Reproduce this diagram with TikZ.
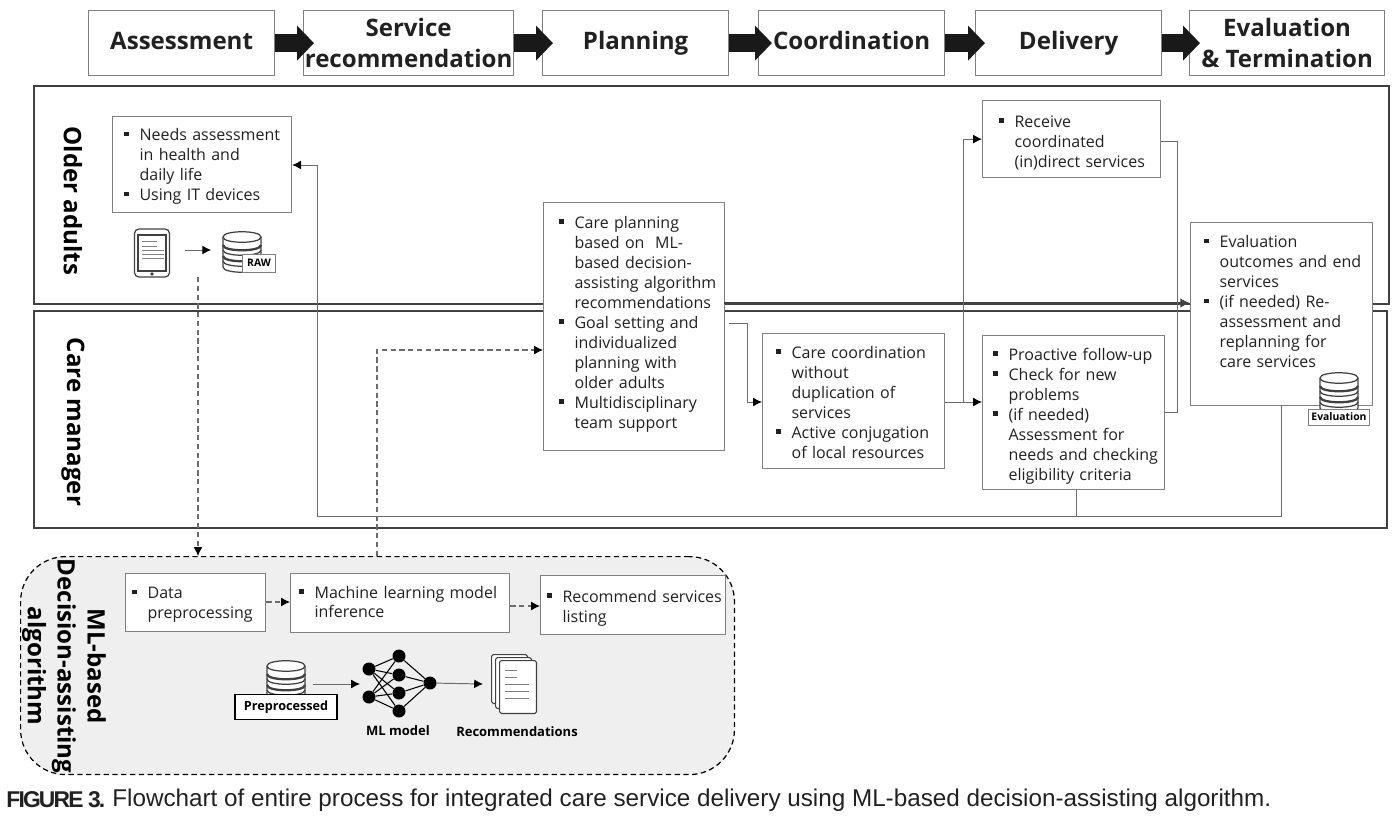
\documentclass[tikz,border=0pt]{standalone}
\usepackage{fontspec}
\setmainfont{Open Sans}
\newfontfamily\capfont{Liberation Sans}
\newfontfamily\capbold[LetterSpace=-8.0]{Liberation Sans Bold}
\usetikzlibrary{arrows.meta}
\definecolor{myline}{rgb}{0.500,0.500,0.500}
\definecolor{mylane}{rgb}{0.250,0.250,0.250}
\definecolor{myflow}{rgb}{0.420,0.420,0.420}
\definecolor{myink}{rgb}{0.130,0.130,0.130}
\definecolor{myblock}{rgb}{0.100,0.100,0.100}
\definecolor{myregion}{rgb}{0.937,0.937,0.937}
\newcommand{\bul}{\rule[0.26em]{2.8pt}{2.8pt}}
\newcommand{\bodyfont}{\fontsize{9.1}{11.38}\selectfont}
\newenvironment{bullets}{\begin{tabular}{@{}l@{\hspace{6.3pt}}l@{}}}{\end{tabular}}
\tikzstyle{none}=[inner sep=0pt]
\tikzstyle{lane}=[draw=mylane,line width=1.1pt,anchor=north west,inner sep=0pt]
\tikzstyle{header}=[draw=myline,line width=.7pt,fill=white,anchor=north west,inner sep=0pt,align=center,minimum height=1.3cm,text=myink,font=\fontsize{13.7}{17.3}\selectfont\bfseries]
\tikzstyle{lanetitle}=[rotate=-90,inner sep=0pt,align=center,text=black,font=\fontsize{13.7}{17}\selectfont\bfseries]
\tikzstyle{iconlabel}=[inner sep=0pt,text=black,font=\fontsize{7.4}{9}\selectfont\bfseries]
\tikzstyle{tagbox}=[draw=myline,line width=.5pt,fill=white,inner sep=0pt,text=black,font=\fontsize{5.9}{8}\selectfont\bfseries]
\tikzstyle{neuron}=[circle,fill=black,inner sep=0pt,minimum size=.26cm]
\tikzstyle{page}=[draw=mylane,line width=.6pt,fill=white,rounded corners=1pt,anchor=north west,inner sep=0pt]
\tikzstyle{flow}=[draw=myflow,line width=.55pt,-{Latex[length=5pt,width=5pt,black]}]
\tikzstyle{plain}=[draw=myflow,line width=.55pt]
\tikzstyle{dashflow}=[draw=myflow,line width=.6pt,dashed,dash pattern=on 3pt off 2pt,-{Latex[length=5pt,width=5pt,black]}]
\tikzstyle{blockflow}=[draw=myblock,line width=.36cm,-{Triangle[length=.34cm,width=.68cm]}]
\tikzset{
	txtbox/.style n args={3}{draw=myline,line width=.7pt,fill=white,anchor=north west,inner ysep=0pt,align=left,text=myink,font=\bodyfont,minimum height=#2*0.02cm,inner xsep=#3*0.02cm,text width={(#1-2*#3)*0.02cm}},
	dbstack/.pic={
		\draw [draw=mylane,line width=.7pt,fill=white] (-19,-15) -- (-19,15) .. controls (-19,22) and (19,22) .. (19,15) -- (19,-15) .. controls (19,-22) and (-19,-22) .. (-19,-15) -- cycle;
		\foreach \y in {-15,-2,9} {
			\draw [draw=mylane,line width=.7pt] (-19,\y) .. controls (-19,\y+7) and (19,\y+7) .. (19,\y);
		}
		\foreach \y in {-7,4} {
			\draw [draw=mylane,line width=1.3pt] (-19,\y) .. controls (-19,\y+7) and (19,\y+7) .. (19,\y);
		}
	}
}
\begin{document}
\begin{tikzpicture}[x=0.02cm,y=-0.02cm]
	\useasboundingbox (0,0) rectangle (1400,815);
	% process steps
	\node [header,minimum width=3.72cm] (assess) at (88,10) {\strut Assessment};
	\node [header,minimum width=4.2cm] (service) at (303,10) {Service\\recommendation};
	\node [header,minimum width=3.72cm] (planning) at (542,10) {\strut Planning};
	\node [header,minimum width=3.72cm] (coordination) at (758,10) {\strut Coordination};
	\node [header,minimum width=3.72cm] (delivery) at (975,10) {\strut Delivery};
	\node [header,minimum width=3.9cm] (evaluation) at (1189,10) {Evaluation\\\& Termination};
	\draw [blockflow] (assess.east) -- ([xshift=.22cm]service.west);
	\draw [blockflow] (service.east) -- ([xshift=.22cm]planning.west);
	\draw [blockflow] (planning.east) -- ([xshift=.28cm]coordination.west);
	\draw [blockflow] (coordination.east) -- ([xshift=.2cm]delivery.west);
	\draw [blockflow] (delivery.east) -- ([xshift=.22cm]evaluation.west);
	% lanes
	\node [lane,minimum width=27.1cm,minimum height=4.36cm] (olderlane) at (33,85) {};
	\node [lane,minimum width=27.06cm,minimum height=4.34cm] (carelane) at (33,310) {};
	\node [lanetitle] (oldertitle) at (73,201) {Older adults};
	\node [lanetitle] (caretitle) at (73,422) {Care manager};
	\node [draw=black,line width=.7pt,dashed,dash pattern=on 3pt off 2pt,fill=myregion,rounded corners=.9cm,anchor=north west,inner sep=0pt,minimum width=14.28cm,minimum height=4.36cm] (mlbox) at (20,556) {};
	\node [lanetitle] (mltitle) at (64,666) {ML-based\\Decision-assisting\\algorithm};
	% boxes
	\node [txtbox={179}{96}{11}] (needs) at (112,116) {\begin{bullets}
		\bul & Needs assessment\\
		& in health and\\
		& daily life\\
		\bul & Using IT devices\\[-2.3pt]
	\end{bullets}};
	\node [txtbox={181}{248}{15}] (plan) at (543,202) {\begin{bullets}
		\bul & Care planning\\
		& based on\ \ ML-\\
		& based decision-\\
		& assisting algorithm\\
		& recommendations\\
		\bul & Goal setting and\\
		& individualized\\
		& planning with\\
		& older adults\\
		\bul & Multidisciplinary\\
		& team support\\[2.7pt]
	\end{bullets}};
	\node [txtbox={182}{135}{13}] (coord) at (762,333) {\begin{bullets}
		\bul & Care coordination\\
		& without\\
		& duplication of\\
		& services\\
		\bul & Active conjugation\\
		& of local resources\\[-3.4pt]
	\end{bullets}};
	\node [txtbox={178}{77}{16}] (receive) at (982,100) {\begin{bullets}
		\bul & Receive\\
		& coordinated\\
		& (in)direct services\\[-5pt]
	\end{bullets}};
	\node [txtbox={182}{154}{10}] (follow) at (982,335) {\begin{bullets}
		\bul & Proactive follow-up\\
		\bul & Check for new\\
		& problems\\
		\bul & (if needed)\\
		& Assessment for\\
		& needs and checking\\
		& eligibility criteria\\[-3.9pt]
	\end{bullets}};
	\node [txtbox={182}{183}{13}] (eval) at (1190,222) {\begin{bullets}
		\bul & Evaluation\\
		& outcomes and end\\
		& services\\
		\bul & (if needed) Re-\\
		& assessment and\\
		& replanning for\\
		& care services\\[12pt]
	\end{bullets}};
	\node [txtbox={140}{58}{6}] (data) at (125,573) {\begin{bullets}
		\bul & Data\\
		& preprocessing\\[-2.3pt]
	\end{bullets}};
	\node [txtbox={219}{59}{8}] (infer) at (290,573) {\begin{bullets}
		\bul & Machine learning model\\
		& inference\\[-1pt]
	\end{bullets}};
	\node [txtbox={185}{59}{6}] (recom) at (540,575) {\begin{bullets}
		\bul & Recommend services\\
		& listing\\[-3.4pt]
	\end{bullets}};
	% icons
	\node [draw=mylane,line width=.7pt,rounded corners=2.5pt,inner sep=0pt,minimum width=.7cm,minimum height=.96cm] (tablet) at (152,253) {};
	\draw [draw=mylane,line width=.7pt] (138,235) rectangle (166,271);
	\fill [mylane] (152,274) circle [radius=1.8];
	\foreach \y/\w in {241/15,246/15,250/22,254/22,258/22} {
		\draw [draw=myline,line width=.4pt] (142,\y) -- ++(\w,0);
	}
	\pic at (242,252) {dbstack};
	\node [none,minimum width=.78cm,minimum height=.8cm] (rawdb) at (242,250) {};
	\node [tagbox,minimum width=.66cm,minimum height=.36cm] (rawtag) at (259,263) {RAW};
	\pic at (1339,393) {dbstack};
	\node [tagbox,minimum width=1.22cm,minimum height=.32cm] (evaltag) at (1339,417) {Evaluation};
	\pic at (286,681) {dbstack};
	\node [draw=black,line width=.8pt,fill=white,inner sep=0pt,minimum width=2.04cm,minimum height=.5cm,text=black,font=\fontsize{7.2}{9}\selectfont\bfseries] (pretag) at (286,707) {Preprocessed};
	\node [neuron] (in0) at (369,669) {};
	\node [neuron] (in1) at (369,697) {};
	\node [neuron] (hid0) at (399,656) {};
	\node [neuron] (hid1) at (399,675) {};
	\node [neuron] (hid2) at (399,693) {};
	\node [neuron] (hid3) at (399,711) {};
	\node [neuron] (out) at (430,683) {};
	\foreach \a in {in0,in1} {
		\foreach \b in {hid0,hid1,hid2,hid3} {
			\draw [line width=.6pt] (\a) -- (\b);
		}
	}
	\foreach \b in {hid0,hid1,hid2,hid3} {
		\draw [line width=.6pt] (\b) -- (out);
	}
	\node [page,minimum width=.72cm,minimum height=.98cm] (page0) at (491,654) {};
	\node [page,minimum width=.72cm,minimum height=1.02cm] (page1) at (495,657) {};
	\node [page,minimum width=.74cm,minimum height=1.06cm] (page2) at (499,660) {};
	\foreach \y/\w in {670/12,677/12,684/24,691/24,698/24} {
		\draw [draw=myline,line width=.5pt] (505,\y) -- ++(\w,0);
	}
	\node [iconlabel] (mllabel) at (398,731) {ML model};
	\node [iconlabel] (reclabel) at (517,732) {Recommendations};
	% free ends and corners
	\coordinate (joint) at (963,402);
	\coordinate (rawout) at (198,277);
	\coordinate (mlout) at (377,350);
	\coordinate (planout) at (729,323);
	\coordinate (planturn) at (747,402);
	\coordinate (recvturn) at (1177,141);
	\coordinate (backturn) at (317,516);
	\coordinate (bottom) at (1076,516);
	\coordinate (evalout) at (1281,405);
	\coordinate (midline) at (724,303);
	\coordinate (nnin) at (360,684);
	\coordinate (preout) at (313,684);
	\coordinate (docsin) at (483,684);
	% connectors
	\draw [draw=mylane,line width=1pt,-{Latex[length=5.5pt,width=5.5pt]}] (midline) -- (eval.west |- midline);
	\draw [flow] (planout) -- (planturn |- planout) -- (planturn) -- (coord.west |- planturn);
	\draw [flow] (coord.east |- joint) -- (follow.west |- joint);
	\draw [flow] (joint) -- (joint |- receive.west) -- (receive.west);
	\draw [plain] (receive.east |- recvturn) -- (recvturn) -- (recvturn |- 0,412) -- (follow.east |- 0,412);
	\draw [flow] (evalout) -- (evalout |- backturn) -- (backturn) -- (backturn |- 0,165) -- (needs.east |- 0,165);
	\draw [plain] (follow.south -| bottom) -- (bottom);
	\draw [flow,shorten <=.3cm,shorten >=.22cm] (tablet.east |- rawdb) -- (rawdb.west);
	\draw [dashflow] (rawout) -- (rawout |- mlbox.north);
	\draw [dashflow] (mlout |- mlbox.north) -- (mlout) -- (plan.west |- mlout);
	\draw [dashflow] (data.east |- 0,602) -- (infer.west |- 0,602);
	\draw [dashflow] (infer.east |- 0,606) -- (recom.west |- 0,606);
	\draw [flow] (preout) -- (nnin);
	\draw [flow] (out) -- (docsin);
	% caption
	\node [none,anchor=west,text=myink,font=\capbold\fontsize{13}{15}\selectfont] (figlabel) at (6,800) {FIGURE 3.};
	\node [none,anchor=west,text=myink,font=\capfont\fontsize{13.8}{15}\selectfont] (caption) at (112,800) {Flowchart of entire process for integrated care service delivery using ML-based decision-assisting algorithm.};
\end{tikzpicture}
\end{document}
